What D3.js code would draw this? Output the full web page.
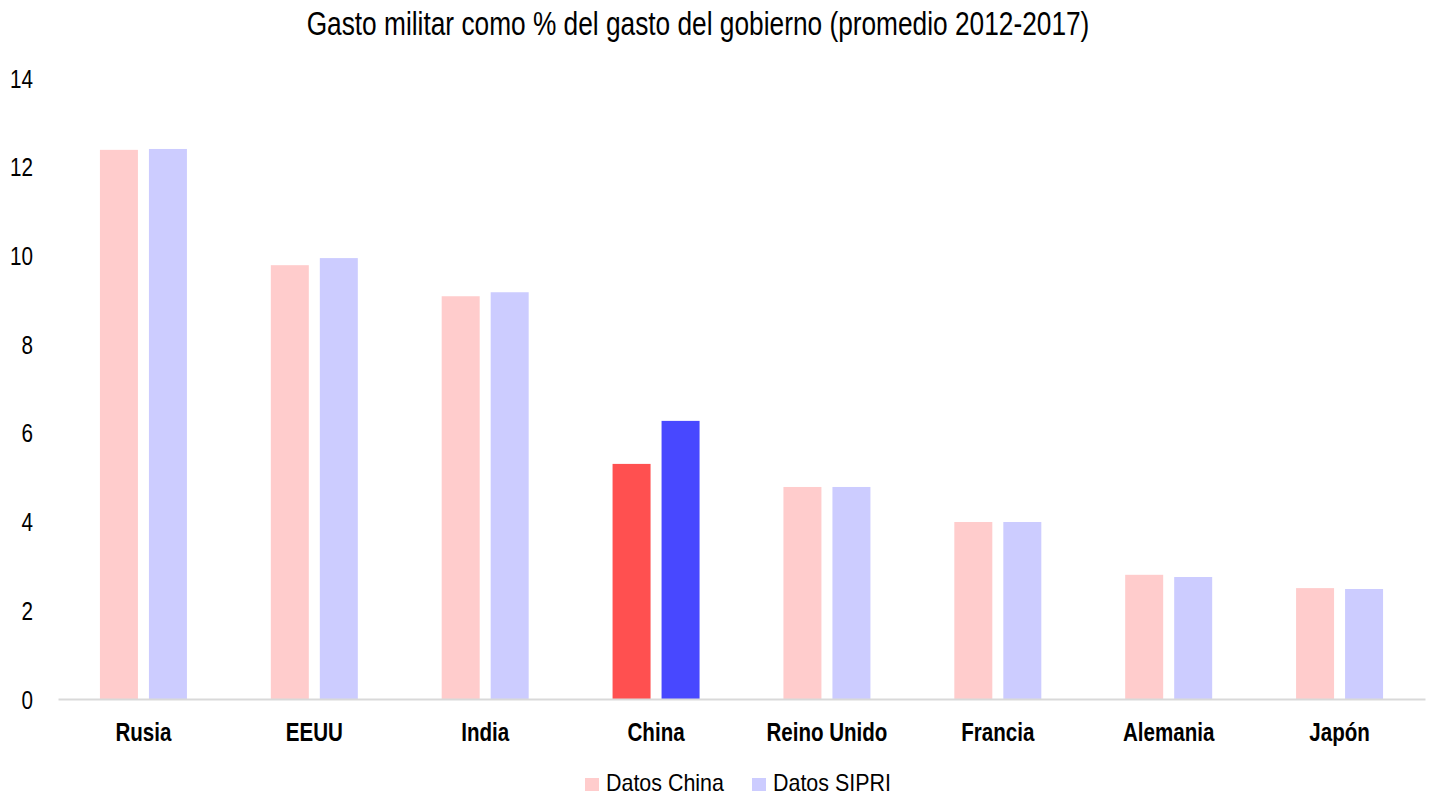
<!DOCTYPE html>
<html><head><meta charset="utf-8">
<script src="https://cdn.jsdelivr.net/npm/d3@7"></script>
<style>
body{margin:0;background:#fff;}
text{font-family:"Liberation Sans",Arial,sans-serif;fill:#000;}
</style></head>
<body>
<svg id="chart" width="1430" height="798"></svg>
<script>
const categories = ["Rusia","EEUU","India","China","Reino Unido","Francia","Alemania","Japón"];
const seriesNames = ["Datos China","Datos SIPRI"];
const datosChina = [12.38, 9.78, 9.08, 5.30, 4.78, 3.99, 2.80, 2.50];
const datosSIPRI = [12.40, 9.94, 9.17, 6.27, 4.78, 3.99, 2.75, 2.48];
const yTicks = [0,2,4,6,8,10,12,14];
const title = "Gasto militar como % del gasto del gobierno (promedio 2012-2017)";

(function(){
const svg = d3.select("#chart");
const mLeft = 58, mRight = 1425, mTop = 78, mBottom = 699;
const x = d3.scaleBand().domain(categories).range([mLeft, mRight]).padding(0);
const y = d3.scaleLinear().domain([0,14]).range([mBottom, mTop]);
const barW = 38, gap = 11;
const lightColors = ["#FFCCCC","#CCCCFF"];
const strongColors = ["#FF5050","#4848FF"];

// condense helper: horizontally scale text around its x anchor
function condense(sel, sx){
  sel.each(function(){
    const t = d3.select(this);
    const x0 = +t.attr("x") || 0;
    t.attr("transform", `translate(${x0*(1-sx)},0) scale(${sx},1)`);
  });
}

const tt = svg.append("text").attr("x", 698).attr("y", 35).attr("text-anchor","middle")
  .style("font-size","34px").text(title);
condense(tt, 783 / tt.node().getComputedTextLength());

const yAxis = d3.axisLeft(y).tickValues(yTicks).tickSize(0).tickPadding(0);
const gy = svg.append("g").attr("transform",`translate(33,0)`).call(yAxis);
gy.attr("font-family",null).attr("font-size",null);
gy.select(".domain").remove();
gy.selectAll("text").style("font-size","25px").attr("fill","#000").attr("dy","0.36em");
const yLabelNodes = gy.selectAll("text").nodes();
const n14 = yLabelNodes.find(n=>n.textContent==="14");
const syx = 23 / n14.getComputedTextLength();
condense(gy.selectAll("text"), syx);

const data = categories.map((c,i)=>({c, vals:[datosChina[i], datosSIPRI[i]]}));
const groups = svg.append("g").selectAll("g").data(data).join("g");
groups.each(function(d){
  const g = d3.select(this);
  const cx = x(d.c) + x.bandwidth()/2;
  d.vals.forEach((v,j)=>{
    const x0 = j===0 ? cx - gap/2 - barW : cx + gap/2;
    g.append("rect").attr("x", x0).attr("width", barW)
      .attr("y", y(v)).attr("height", y(0)-y(v))
      .attr("fill", d.c==="China" ? strongColors[j] : lightColors[j]);
  });
});

const xAxis = d3.axisBottom(x).tickSize(0).tickPadding(0);
const gx = svg.append("g").attr("transform",`translate(0,${mBottom})`).call(xAxis);
gx.attr("font-family",null).attr("font-size",null);
gx.select(".domain").attr("stroke","#D9D9D9").attr("stroke-width",2);
gx.selectAll("text").attr("dy",null).attr("y",42).style("font-size","25px").style("font-weight","bold").attr("fill","#000");
const ru = gx.selectAll("text").nodes().find(n=>n.textContent==="Reino Unido");
condense(gx.selectAll("text"), 121 / ru.getComputedTextLength());

const legend = svg.append("g");
const legItems = [{x:585, tx:606, name:seriesNames[0], c:lightColors[0]},{x:752, tx:773, name:seriesNames[1], c:lightColors[1]}];
const legTexts = [];
legItems.forEach(it=>{
  legend.append("rect").attr("x",it.x).attr("y",778).attr("width",14).attr("height",13).attr("fill",it.c);
  legTexts.push(legend.append("text").attr("x",it.tx).attr("y",791).style("font-size","23px").text(it.name).node());
});
const lsx = 118 / legTexts[0].getComputedTextLength();
condense(legend.selectAll("text"), lsx);
})();
</script>
</body></html>
